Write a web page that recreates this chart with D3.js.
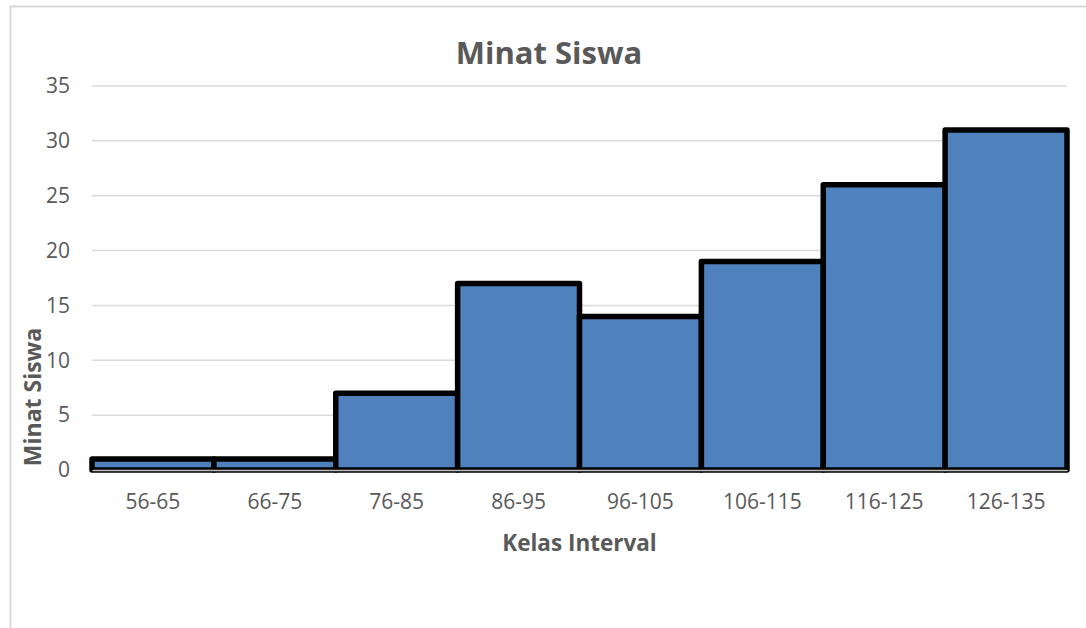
<!DOCTYPE html>
<html>
<head>
<meta charset="utf-8">
<script src="https://cdn.jsdelivr.net/npm/d3@7"></script>
<style>
  body { margin: 0; background: #fff; }
  text { font-family: "Open Sans", "Noto Sans", sans-serif; fill: #595959; }
</style>
</head>
<body>
<div class="chart"></div>
<script>
// Data
const categories = ["56-65", "66-75", "76-85", "86-95", "96-105", "106-115", "116-125", "126-135"];
const values = [1, 1, 7, 17, 14, 19, 26, 31];
const yTicks = [0, 5, 10, 15, 20, 25, 30, 35];

const W = 1086, H = 628;
const margin = {top: 86, left: 92, right: 19, bottom: 158};
const width = W - margin.left - margin.right;
const height = H - margin.top - margin.bottom;

const root = d3.select(".chart").append("svg")
    .attr("width", W)
    .attr("height", H);

// chart frame
root.append("rect")
    .attr("x", 10.5).attr("y", 6.5)
    .attr("width", 1090).attr("height", 640)
    .attr("fill", "none")
    .attr("stroke", "#d9d9d9")
    .attr("stroke-width", 2);

const svg = root.append("g")
    .attr("transform", `translate(${margin.left},${margin.top})`);

const xScale = d3.scaleBand()
    .domain(categories)
    .range([0, width])
    .padding(0);

const yScale = d3.scaleLinear()
    .domain([0, 35])
    .range([height, 0]);

// gridlines
svg.append("g")
    .selectAll("line")
    .data(yTicks)
    .join("line")
    .attr("x1", 0).attr("x2", width)
    .attr("y1", d => yScale(d)).attr("y2", d => yScale(d))
    .attr("stroke", "#d9d9d9")
    .attr("stroke-width", 1.5);

// y axis labels
const yAxis = d3.axisLeft(yScale).tickValues(yTicks).tickSize(0).tickPadding(22);
svg.append("g")
    .attr("class", "y-axis")
    .call(yAxis)
    .call(g => g.select(".domain").remove())
    .selectAll("text")
    .attr("font-size", 21)
    .style("fill", "#595959");

// bars
svg.append("g")
    .selectAll("rect")
    .data(values)
    .join("rect")
    .attr("x", (d, i) => xScale(categories[i]))
    .attr("y", d => yScale(d))
    .attr("width", xScale.bandwidth())
    .attr("height", d => height - yScale(d))
    .attr("fill", "#4f81bd")
    .attr("stroke", "#000")
    .attr("stroke-width", 5.5)
    .attr("stroke-linejoin", "round");

// x axis
const xAxis = d3.axisBottom(xScale).tickSize(0).tickPadding(24);
svg.append("g")
    .attr("class", "x-axis")
    .attr("transform", `translate(0,${height})`)
    .call(xAxis)
    .call(g => g.select(".domain").attr("stroke", "#bfbfbf").attr("stroke-width", 1.5))
    .selectAll("text")
    .attr("font-size", 21)
    .style("fill", "#595959");

// title
root.append("text")
    .attr("x", 549).attr("y", 64)
    .attr("text-anchor", "middle")
    .attr("font-size", 31)
    .attr("font-weight", "bold")
    .text("Minat Siswa");

// axis titles
root.append("text")
    .attr("x", margin.left + width / 2).attr("y", 551)
    .attr("text-anchor", "middle")
    .attr("font-size", 22.5)
    .attr("font-weight", "bold")
    .text("Kelas Interval");

root.append("text")
    .attr("transform", "translate(41,397) rotate(-90)")
    .attr("text-anchor", "middle")
    .attr("font-size", 23)
    .attr("font-weight", "bold")
    .text("Minat Siswa");
</script>
</body>
</html>
